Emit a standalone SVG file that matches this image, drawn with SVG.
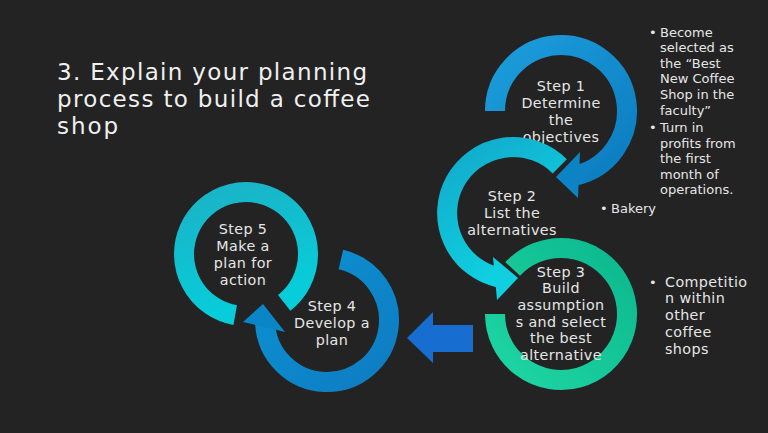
<svg xmlns="http://www.w3.org/2000/svg" width="768" height="433" viewBox="0 0 768 433">
<defs>
<linearGradient id="gBlue1" x1="0" y1="0" x2="1" y2="1"><stop offset="0" stop-color="#1c9ddb"/><stop offset="1" stop-color="#0b7cc0"/></linearGradient>
<linearGradient id="gCyan2" x1="0" y1="0" x2="0.6" y2="1"><stop offset="0" stop-color="#12aacb"/><stop offset="1" stop-color="#0fd3e2"/></linearGradient>
<linearGradient id="gGreen3" x1="1" y1="0" x2="0" y2="1"><stop offset="0" stop-color="#0bb88d"/><stop offset="1" stop-color="#1fd6a4"/></linearGradient>
<linearGradient id="gBlue4" x1="0" y1="0" x2="1" y2="1"><stop offset="0" stop-color="#0b92d2"/><stop offset="1" stop-color="#0f7cc2"/></linearGradient>
<linearGradient id="gCyan5" x1="0" y1="0" x2="0.3" y2="1"><stop offset="0" stop-color="#1ab3c6"/><stop offset="1" stop-color="#07cdda"/></linearGradient>
<style>
.ring{fill:none;stroke-width:20;stroke-linecap:butt}
.t{font-family:"DejaVu Sans","Liberation Sans",sans-serif;fill:#e6e6e6;text-anchor:middle;font-size:14.3px;letter-spacing:0.4px}
.title{font-family:"DejaVu Sans","Liberation Sans",sans-serif;fill:#f0f0f0;font-size:23px}
.b{font-family:"DejaVu Sans","Liberation Sans",sans-serif;fill:#e6e6e6;font-size:13px}
.b2{font-family:"DejaVu Sans","Liberation Sans",sans-serif;fill:#e6e6e6;font-size:14.3px;letter-spacing:0.4px}
</style>
</defs>
<rect width="768" height="433" fill="#232323"/>

<g id="title">
<text class="title" x="57" y="80" textLength="310" lengthAdjust="spacing">3. Explain your planning</text>
<text class="title" x="57" y="107" textLength="313" lengthAdjust="spacing">process to build a coffee</text>
<text class="title" x="57" y="134" textLength="61" lengthAdjust="spacing">shop</text>
</g>

<g id="connectors">
<polygon points="407,338 433,312 433,325 473,325 473,352 433,352 433,363" fill="#176ed0"/>
</g>

<g id="step5">
<path class="ring" stroke="url(#gCyan5)" d="M235.2,315.1 A62,62 0 1 1 284.2,302.9"/>
<text class="t" x="243" y="234">Step 5</text>
<text class="t" x="243" y="251">Make a</text>
<text class="t" x="243" y="268">plan for</text>
<text class="t" x="243" y="285">action</text>
</g>

<g id="step4">
<path class="ring" stroke="url(#gBlue4)" d="M340.9,259.6 A62,62 0 1 1 265.1,323.2"/>
<polygon points="243,322 263,304 285,332" fill="#0a86c8"/>
<text class="t" x="332" y="311">Step 4</text>
<text class="t" x="332" y="328">Develop a</text>
<text class="t" x="332" y="345">plan</text>
</g>

<g id="step1">
<path class="ring" stroke="url(#gBlue1)" d="M495,111 A66,66 0 1 1 574.7,175.6"/>
<polygon points="580,152 556,177 578,198" fill="#0c83c4"/>
<text class="t" x="561" y="91">Step 1</text>
<text class="t" x="561" y="108">Determine</text>
<text class="t" x="561" y="125">the</text>
<text class="t" x="561" y="142">objectives</text>
</g>

<g id="step2">
<path class="ring" stroke="url(#gCyan2)" d="M559.7,166.3 A66,66 0 1 0 499.3,277.6"/>
<polygon points="493,257 518,278 497,300" fill="#0fcfe0"/>
<text class="t" x="512" y="201">Step 2</text>
<text class="t" x="512" y="218">List the</text>
<text class="t" x="512" y="235">alternatives</text>
</g>

<g id="step3">
<path class="ring" stroke="url(#gGreen3)" d="M512.7,269 A66,66 0 1 1 495,314"/>
<text class="t" x="561" y="276.5">Step 3</text>
<text class="t" x="561" y="293.2">Build</text>
<text class="t" x="561" y="309.9">assumption</text>
<text class="t" x="561" y="326.6">s and select</text>
<text class="t" x="561" y="343.3">the best</text>
<text class="t" x="561" y="360">alternative</text>
</g>

<g id="notes1">
<text class="b" x="649" y="36.5">•</text>
<text class="b" x="660" y="36.5">Become</text>
<text class="b" x="660" y="52.3">selected as</text>
<text class="b" x="660" y="67.8">the “Best</text>
<text class="b" x="660" y="83.4">New Coffee</text>
<text class="b" x="660" y="99">Shop in the</text>
<text class="b" x="660" y="114.5">faculty”</text>
<text class="b" x="649" y="131.5">•</text>
<text class="b" x="660" y="131.5">Turn in</text>
<text class="b" x="660" y="147.5">profits from</text>
<text class="b" x="660" y="163.2">the first</text>
<text class="b" x="660" y="178.5">month of</text>
<text class="b" x="660" y="194">operations.</text>
</g>

<g id="notes2">
<text class="b" x="600" y="213">•</text>
<text class="b" x="611" y="213">Bakery</text>
</g>

<g id="notes3">
<text class="b" x="649" y="286.5">•</text>
<text class="b2" x="665" y="286.5">Competitio</text>
<text class="b2" x="665" y="303.3">n within</text>
<text class="b2" x="665" y="320">other</text>
<text class="b2" x="665" y="337">coffee</text>
<text class="b2" x="665" y="354">shops</text>
</g>
</svg>
